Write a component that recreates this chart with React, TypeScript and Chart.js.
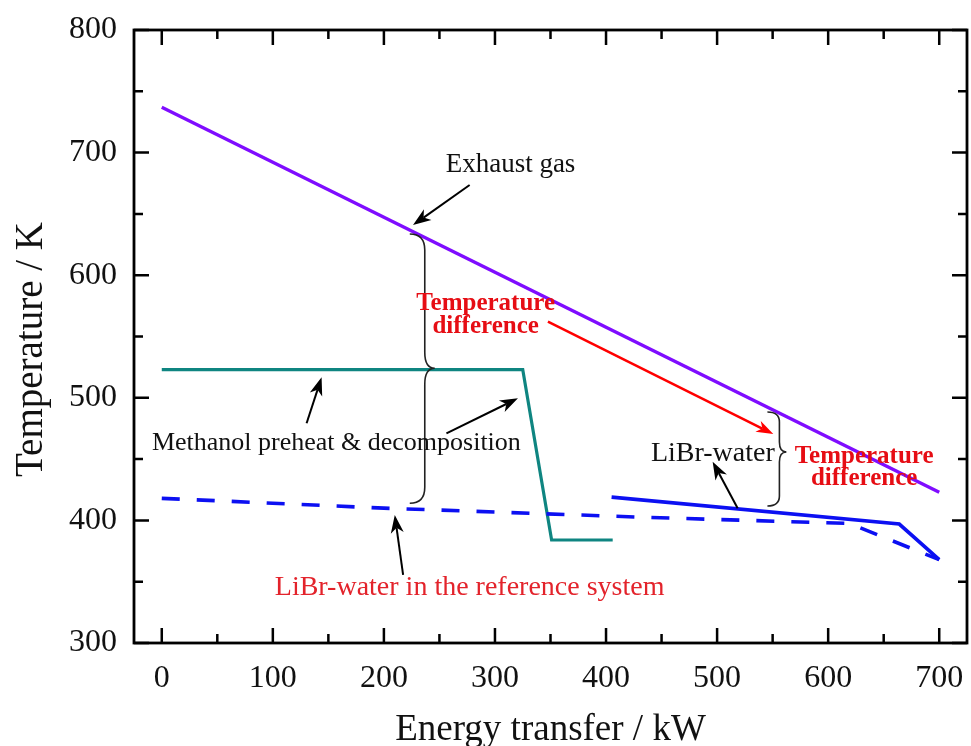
import React, { useEffect, useRef } from 'react';
import { Chart, registerables } from 'chart.js';

Chart.register(...registerables);

// ---------- data ----------
const exhaustX = [0, 700];
const exhaustY = [737, 423];

const methanolX = [0, 325, 351, 406];
const methanolY = [523, 523, 384, 384];

const librX = [405, 664, 700];
const librY = [419, 397, 368];

const refX = [0, 200, 436, 619, 700];
const refY = [418, 410, 402.5, 397.5, 368];

const xMajorTicks = [0, 100, 200, 300, 400, 500, 600, 700];
const xMinorTicks = [50, 150, 250, 350, 450, 550, 650];
const yMajorTicks = [300, 400, 500, 600, 700, 800];
const yMinorTicks = [350, 450, 550, 650, 750];

const xTitle = 'Energy transfer / kW';
const yTitle = 'Temperature / K';

// ---------- annotations (anchored in data coordinates) ----------
const FONT = '"Liberation Serif", "Times New Roman", Times, serif';
const RED_BOLD = '#e60d14';
const RED_TEXT = '#e3232b';

const textNotes = [
  { text: 'Exhaust gas', x: 314, y: 684.2, color: '#111', weight: 'normal', size: 27 },
  { text: 'Temperature', x: 291.6, y: 571.6, color: RED_BOLD, weight: 'bold', size: 25 },
  { text: 'difference', x: 291.6, y: 552.6, color: RED_BOLD, weight: 'bold', size: 25 },
  { text: 'Methanol preheat & decomposition', x: 157.2, y: 457.4, color: '#111', weight: 'normal', size: 26 },
  { text: 'LiBr-water in the reference system', x: 277.2, y: 339.2, color: RED_TEXT, weight: 'normal', size: 28 },
  { text: 'LiBr-water', x: 496.2, y: 448.4, color: '#111', weight: 'normal', size: 28 },
  { text: 'Temperature', x: 632.4, y: 446.6, color: RED_BOLD, weight: 'bold', size: 25 },
  { text: 'difference', x: 632.4, y: 428.9, color: RED_BOLD, weight: 'bold', size: 25 },
];

const arrowNotes = [
  { x1: 277.2, y1: 673.6, x2: 226.2, y2: 640.9, color: '#000', lw: 2, hl: 18, hw: 13 },
  { x1: 130.4, y1: 479.2, x2: 143.9, y2: 516.7, color: '#000', lw: 2, hl: 18, hw: 13 },
  { x1: 256.3, y1: 471.0, x2: 320.7, y2: 499.6, color: '#000', lw: 2, hl: 18, hw: 13 },
  { x1: 217.3, y1: 355.5, x2: 209.8, y2: 404.4, color: '#000', lw: 2, hl: 18, hw: 13 },
  { x1: 518.5, y1: 409.9, x2: 496.0, y2: 447.9, color: '#000', lw: 2, hl: 18, hw: 13 },
  { x1: 347.7, y1: 562.1, x2: 550.6, y2: 470.5, color: '#ff0000', lw: 2.5, hl: 17, hw: 12 },
];

const braceNotes = [
  { xEnd: 223.3, xV: 236.8, xC: 245.8, yTop: 633.6, yBot: 414.0, yMid: 524.1, r: 16 },
  { xEnd: 545.3, xV: 556.1, xC: 562.4, yTop: 488.4, yBot: 411.7, yMid: 455.8, r: 10 },
];

const toPoints = (xs: number[], ys: number[]) => xs.map((x, i) => ({ x, y: ys[i] }));

function drawArrow(ctx: CanvasRenderingContext2D, x1: number, y1: number, x2: number, y2: number,
  color: string, lw: number, hl: number, hw: number) {
  const dx = x2 - x1, dy = y2 - y1;
  const L = Math.hypot(dx, dy);
  const ux = dx / L, uy = dy / L;
  const nx = -uy, ny = ux;
  const bx = x2 - ux * hl, by = y2 - uy * hl;
  const mx = x2 - ux * hl * 0.72, my = y2 - uy * hl * 0.72;
  ctx.strokeStyle = color;
  ctx.fillStyle = color;
  ctx.lineWidth = lw;
  ctx.beginPath();
  ctx.moveTo(x1, y1);
  ctx.lineTo(mx, my);
  ctx.stroke();
  ctx.beginPath();
  ctx.moveTo(x2, y2);
  ctx.lineTo(bx + nx * hw / 2, by + ny * hw / 2);
  ctx.lineTo(mx, my);
  ctx.lineTo(bx - nx * hw / 2, by - ny * hw / 2);
  ctx.closePath();
  ctx.fill();
}

const framePlugin = {
  id: 'frameAndNotes',
  afterDraw(chart: any) {
    const ctx: CanvasRenderingContext2D = chart.ctx;
    const xs = chart.scales.x;
    const ys = chart.scales.y;
    const X = (v: number) => xs.getPixelForValue(v);
    const Y = (v: number) => ys.getPixelForValue(v);
    const { left, right, top, bottom } = chart.chartArea;

    ctx.save();
    // ticks (inward, mirrored)
    ctx.strokeStyle = '#000';
    ctx.lineWidth = 2.5;
    ctx.beginPath();
    const xt = (vals: number[], len: number) => vals.forEach((v) => {
      const p = X(v);
      ctx.moveTo(p, bottom); ctx.lineTo(p, bottom - len);
      ctx.moveTo(p, top); ctx.lineTo(p, top + len);
    });
    const yt = (vals: number[], len: number) => vals.forEach((v) => {
      const p = Y(v);
      ctx.moveTo(left, p); ctx.lineTo(left + len, p);
      ctx.moveTo(right, p); ctx.lineTo(right - len, p);
    });
    xt(xMajorTicks, 15); xt(xMinorTicks, 9);
    yt(yMajorTicks, 15); yt(yMinorTicks, 9);
    ctx.stroke();
    ctx.lineWidth = 2.8;
    ctx.strokeRect(left, top, right - left, bottom - top);

    // braces
    ctx.strokeStyle = '#222';
    ctx.lineWidth = 1.6;
    braceNotes.forEach((b) => {
      const xe = X(b.xEnd), xv = X(b.xV), xc = X(b.xC);
      const yt0 = Y(b.yTop), yb = Y(b.yBot), ym = Y(b.yMid);
      const r = b.r;
      ctx.beginPath();
      ctx.moveTo(xe, yt0);
      ctx.quadraticCurveTo(xv, yt0, xv, yt0 + r);
      ctx.lineTo(xv, ym - r);
      ctx.quadraticCurveTo(xv, ym, xc, ym);
      ctx.quadraticCurveTo(xv, ym, xv, ym + r);
      ctx.lineTo(xv, yb - r);
      ctx.quadraticCurveTo(xv, yb, xe, yb);
      ctx.stroke();
    });

    // arrows
    arrowNotes.forEach((a) => drawArrow(ctx, X(a.x1), Y(a.y1), X(a.x2), Y(a.y2), a.color, a.lw, a.hl, a.hw));

    // texts
    ctx.textAlign = 'center';
    ctx.textBaseline = 'alphabetic';
    textNotes.forEach((t) => {
      ctx.font = `${t.weight} ${t.size}px ${FONT}`;
      ctx.fillStyle = t.color;
      ctx.fillText(t.text, X(t.x), Y(t.y));
    });

    // axis titles
    ctx.fillStyle = '#111';
    ctx.font = `37px ${FONT}`;
    ctx.fillText(xTitle, (left + right) / 2, bottom + 97);
    ctx.save();
    ctx.translate(left - 92, (top + bottom) / 2 + 13);
    ctx.rotate(-Math.PI / 2);
    ctx.font = `39px ${FONT}`;
    ctx.fillText(yTitle, 0, 0);
    ctx.restore();

    ctx.restore();
  },
};

const zeroPadding = (s: any) => {
  s.paddingTop = 0;
  s.paddingBottom = 0;
  s.paddingLeft = 0;
  s.paddingRight = 0;
};

export default function App() {
  const ref = useRef<HTMLCanvasElement>(null);
  useEffect(() => {
    document.body.style.margin = '0';
    const canvas = ref.current;
    if (!canvas) return;
    const lineBase = { showLine: true, pointRadius: 0, borderWidth: 3.6, fill: false, tension: 0 };
    const chart = new Chart(canvas, {
      type: 'scatter',
      data: {
        datasets: [
          { ...lineBase, label: 'LiBr-water (reference)', data: toPoints(refX, refY), borderColor: '#0c10f2', borderDash: [18, 17] },
          { ...lineBase, label: 'Methanol preheat & decomposition', data: toPoints(methanolX, methanolY), borderColor: '#0f8581', borderWidth: 3.2 },
          { ...lineBase, label: 'LiBr-water', data: toPoints(librX, librY), borderColor: '#0c10f2' },
          { ...lineBase, label: 'Exhaust gas', data: toPoints(exhaustX, exhaustY), borderColor: '#7f0cff', borderWidth: 3.4 },
        ],
      },
      options: {
        animation: false,
        responsive: true,
        maintainAspectRatio: false,
        events: [],
        layout: { padding: { top: 30, right: 4, left: 0, bottom: 0 } },
        plugins: { legend: { display: false }, tooltip: { enabled: false } },
        scales: {
          x: {
            type: 'linear',
            min: -25,
            max: 725,
            afterBuildTicks: (s: any) => {
              s.ticks = [...xMajorTicks, ...xMinorTicks].sort((a, b) => a - b).map((v) => ({ value: v }));
            },
            afterFit: (s: any) => { s.height = 103; zeroPadding(s); },
            grid: { display: false, drawTicks: false },
            border: { display: false },
            ticks: {
              autoSkip: false,
              maxRotation: 0,
              padding: 16,
              color: '#111',
              font: { size: 32, family: FONT },
              callback: (v: any) => (xMajorTicks.includes(Number(v)) ? String(v) : ''),
            },
          },
          y: {
            type: 'linear',
            min: 300,
            max: 800,
            afterBuildTicks: (s: any) => {
              s.ticks = [...yMajorTicks, ...yMinorTicks].sort((a, b) => a - b).map((v) => ({ value: v }));
            },
            afterFit: (s: any) => { s.width = 134; zeroPadding(s); },
            grid: { display: false, drawTicks: false },
            border: { display: false },
            ticks: {
              autoSkip: false,
              padding: 17,
              color: '#111',
              font: { size: 32, family: FONT },
              callback: (v: any) => (yMajorTicks.includes(Number(v)) ? String(v) : ''),
            },
          },
        },
      } as any,
      plugins: [framePlugin],
    });
    return () => chart.destroy();
  }, []);
  return (
    <div style={{ width: 971, height: 746, position: 'relative' }}>
      <canvas ref={ref} />
    </div>
  );
}
